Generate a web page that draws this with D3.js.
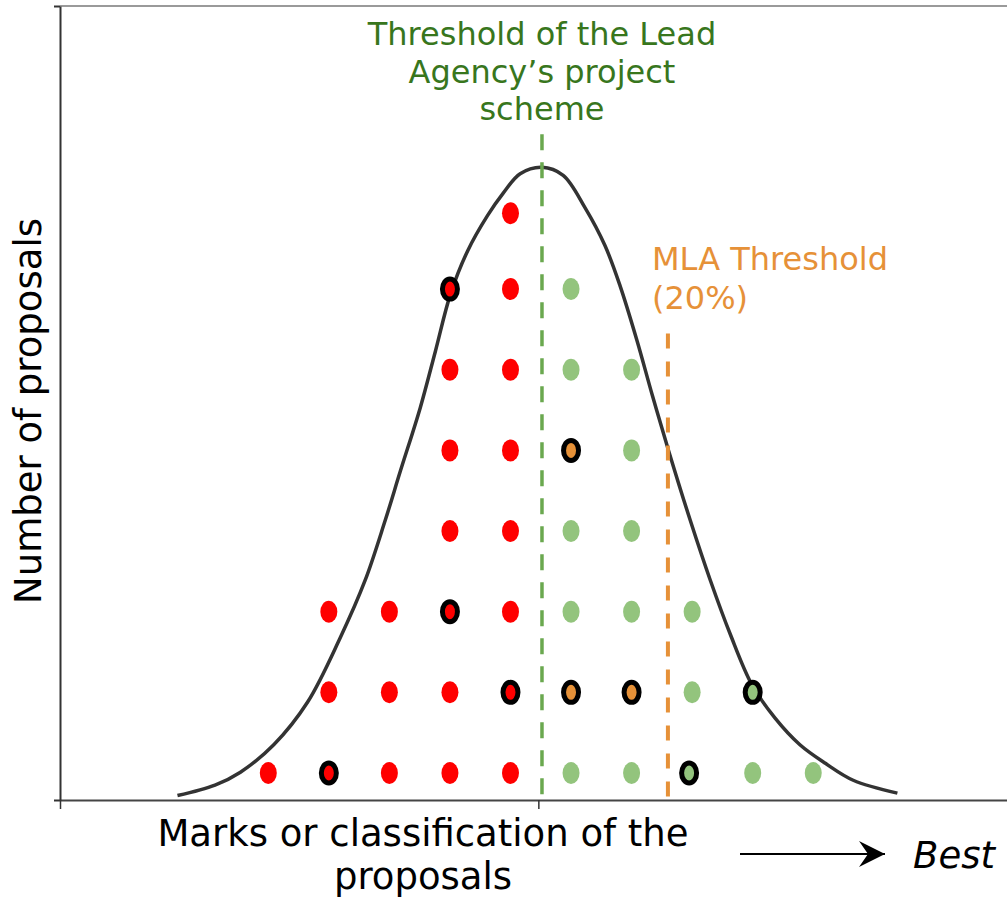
<!DOCTYPE html>
<html>
<head>
<meta charset="utf-8">
<script src="https://cdn.jsdelivr.net/npm/d3@7"></script>
<style>
  body { margin: 0; background: #fff; }
  svg text { font-family: "DejaVu Sans", Verdana, sans-serif; }
</style>
</head>
<body>
<div id="chart"></div>
<script>
// SVG size
var svgWidth = 1007;
var svgHeight = 899;

// Proposals: [score column, row (count), ringed?]
var failDots = [
  [1, 1, 0], [2, 1, 1], [3, 1, 0], [4, 1, 0], [5, 1, 0],
  [2, 2, 0], [3, 2, 0], [4, 2, 0], [5, 2, 1],
  [2, 3, 0], [3, 3, 0], [4, 3, 1], [5, 3, 0],
  [4, 4, 0], [5, 4, 0],
  [4, 5, 0], [5, 5, 0],
  [4, 6, 0], [5, 6, 0],
  [4, 7, 1], [5, 7, 0],
  [5, 7.94, 0]
];
var passDots = [
  [6, 1, 0], [7, 1, 0], [7.95, 1, 1], [9, 1, 0], [10, 1, 0],
  [8, 2, 0], [9, 2, 1],
  [6, 3, 0], [7, 3, 0], [8, 3, 0],
  [6, 4, 0], [7, 4, 0],
  [7, 5, 0],
  [6, 6, 0], [7, 6, 0],
  [6, 7, 0]
];
var mlaDots = [
  [6, 2, 1], [7, 2, 1],
  [6, 5, 1]
];

// Bell curve: [score, count]
var curvePoints = [
  [-0.50, 0.72], [0.12, 0.85], [0.54, 1.01], [1.09, 1.35], [1.65, 1.88],
  [2.19, 2.68], [2.60, 3.39], [2.93, 4.13], [3.18, 4.74], [3.51, 5.53],
  [3.76, 6.23], [4.01, 6.94], [4.29, 7.47], [4.62, 7.91], [4.88, 8.19],
  [5.16, 8.43], [5.52, 8.51], [5.87, 8.41], [6.23, 8.01], [6.56, 7.54],
  [6.81, 7.04], [7.09, 6.36], [7.34, 5.69], [7.61, 5.00], [7.97, 4.13],
  [8.30, 3.39], [8.63, 2.72], [8.99, 2.09], [9.37, 1.68], [9.78, 1.35],
  [10.20, 1.12], [10.66, 0.91], [11.39, 0.75]
];

// thresholds: [score, top of line]
var leadThreshold = [5.52, 8.92];
var mlaThreshold = [7.6, 6.45];

var xDomain = [-2.44, 13.2];
var yDomain = [0.665, 10.51];
var xTicks = [-2.44, 5.46];

var margin = { top: 6, right: 0, bottom: 99, left: 60 };

var svg = d3.select("#chart").append("svg")
  .attr("width", svgWidth)
  .attr("height", svgHeight);

var x = d3.scaleLinear().domain(xDomain).range([margin.left, svgWidth - margin.right]);
var y = d3.scaleLinear().domain(yDomain).range([svgHeight - margin.bottom, margin.top]);

// top border line
svg.append("line")
  .attr("x1", x(xDomain[0])).attr("x2", x(xDomain[1]))
  .attr("y1", y(yDomain[1])).attr("y2", y(yDomain[1]))
  .attr("stroke", "#9a9a9a").attr("stroke-width", 2);

// axes
var bottomAxis = d3.axisBottom(x).tickValues(xTicks).tickSize(9).tickFormat("").tickSizeOuter(0);
var gx = svg.append("g")
  .attr("transform", `translate(0, ${y(yDomain[0])})`)
  .call(bottomAxis);
gx.select(".domain").attr("stroke", "#444").attr("stroke-width", 2);
gx.selectAll(".tick line").attr("stroke", "#333").attr("stroke-width", 1.5);

var leftAxis = d3.axisLeft(y).tickValues(yDomain).tickSize(6).tickFormat("").tickSizeOuter(0);
var gy = svg.append("g")
  .attr("transform", `translate(${x(xDomain[0])}, 0)`)
  .call(leftAxis);
gy.select(".domain").attr("stroke", "#333").attr("stroke-width", 2);
gy.selectAll(".tick line").attr("stroke", "#333").attr("stroke-width", 2);

// bell curve
var line = d3.line()
  .x(d => x(d[0]))
  .y(d => y(d[1]))
  .curve(d3.curveCatmullRom);
svg.append("path")
  .datum(curvePoints)
  .attr("d", line)
  .attr("fill", "none")
  .attr("stroke", "#333")
  .attr("stroke-width", 3.5);

// threshold lines
svg.append("line")
  .attr("x1", x(leadThreshold[0])).attr("x2", x(leadThreshold[0]))
  .attr("y1", y(leadThreshold[1])).attr("y2", y(yDomain[0]))
  .attr("stroke", "#6aa84f").attr("stroke-width", 3.5)
  .attr("stroke-dasharray", "16,12");

svg.append("line")
  .attr("x1", x(mlaThreshold[0])).attr("x2", x(mlaThreshold[0]))
  .attr("y1", y(mlaThreshold[1])).attr("y2", y(yDomain[0]))
  .attr("stroke", "#e69138").attr("stroke-width", 4)
  .attr("stroke-dasharray", "15,13");

// dots
function drawDots(data, color) {
  svg.append("g").selectAll("ellipse")
    .data(data)
    .enter().append("ellipse")
    .attr("cx", d => x(d[0]))
    .attr("cy", d => y(d[1]))
    .attr("rx", d => d[2] ? 7.5 : 8.5)
    .attr("ry", d => d[2] ? 10 : 11)
    .attr("fill", color)
    .attr("stroke", d => d[2] ? "#000" : "none")
    .attr("stroke-width", d => d[2] ? 5 : 0);
}
drawDots(failDots, "#ff0000");
drawDots(passDots, "#93c47d");
drawDots(mlaDots, "#e69138");

// green threshold label
var leadText = svg.append("text")
  .attr("x", x(leadThreshold[0]))
  .attr("text-anchor", "middle")
  .style("font-size", "32px")
  .attr("fill", "#38761d");
["Threshold of the Lead", "Agency\u2019s project", "scheme"].forEach(function(t, i) {
  leadText.append("tspan").attr("x", x(leadThreshold[0])).attr("y", 45 + i * 37.5).text(t);
});

// orange threshold label
var mlaText = svg.append("text")
  .style("font-size", "32px")
  .attr("fill", "#e69138");
["MLA Threshold", "(20%)"].forEach(function(t, i) {
  mlaText.append("tspan").attr("x", 652).attr("y", 270 + i * 39).text(t);
});

// y axis label
svg.append("text")
  .attr("transform", "translate(41, 411) rotate(-90)")
  .attr("text-anchor", "middle")
  .style("font-size", "37px")
  .attr("fill", "#000")
  .text("Number of proposals");

// x axis label
var xLabel = svg.append("text")
  .attr("text-anchor", "middle")
  .style("font-size", "37px")
  .attr("fill", "#000");
["Marks or classification of the", "proposals"].forEach(function(t, i) {
  xLabel.append("tspan").attr("x", 423).attr("y", 846 + i * 43).text(t);
});

// arrow to "Best"
svg.append("defs").append("marker")
  .attr("id", "arrowhead")
  .attr("viewBox", "0 0 26 26")
  .attr("refX", 26).attr("refY", 13)
  .attr("markerWidth", 26).attr("markerHeight", 26)
  .attr("markerUnits", "userSpaceOnUse")
  .attr("orient", "auto")
  .append("path")
  .attr("d", "M0,0 L26,13 L0,26 L9,13 Z")
  .attr("fill", "#000");

svg.append("line")
  .attr("x1", 740).attr("x2", 885)
  .attr("y1", 854).attr("y2", 854)
  .attr("stroke", "#000").attr("stroke-width", 2)
  .attr("marker-end", "url(#arrowhead)");

svg.append("text")
  .attr("x", 913).attr("y", 868)
  .style("font-size", "37px")
  .style("font-style", "italic")
  .attr("fill", "#000")
  .text("Best");
</script>
</body>
</html>
